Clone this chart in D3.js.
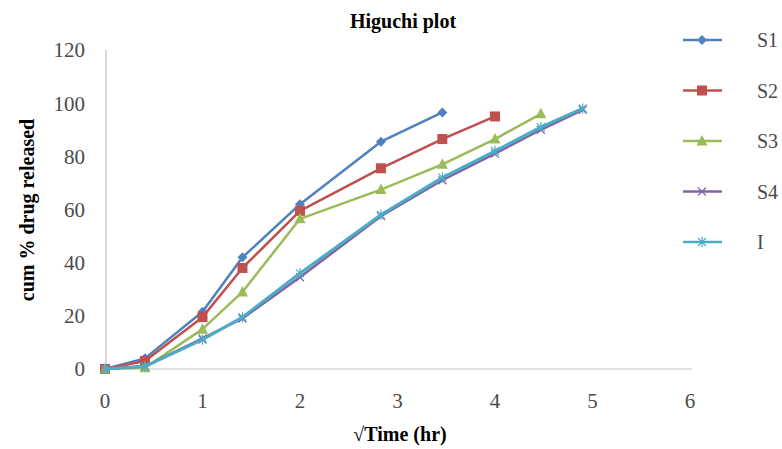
<!DOCTYPE html>
<html>
<head>
<meta charset="utf-8">
<script src="https://cdn.jsdelivr.net/npm/d3@7"></script>
<style>
  body { margin: 0; background: #fff; }
  text { font-family: "Liberation Serif", "Times New Roman", serif; }
</style>
</head>
<body>
<div id="chart"></div>
<script>
// sqrt(time) values
var sqrtTime = [0, 0.41, 1, 1.41, 2, 2.83, 3.46, 4, 4.47, 4.9];

var seriesNames = ["S1", "S2", "S3", "S4", "I"];
var s1 = [0, 4, 21.5, 42, 62, 85.5, 96.5];
var s2 = [0, 3, 19.5, 38, 59.5, 75.5, 86.5, 95];
var s3 = [0, 0.5, 15, 29, 56.5, 67.5, 77, 86.5, 96];
var s4 = [0, 1, 11.5, 19, 34.5, 57.5, 71, 81, 90, 97.5];
var sI = [0, 1, 11, 19.5, 36, 58, 72, 82, 91, 98];

var xTicks = [0, 1, 2, 3, 4, 5, 6];
var yTicks = [0, 20, 40, 60, 80, 100, 120];

var colors = ["#4F81BD", "#C0504D", "#9BBB59", "#8064A2", "#4BACC6"];
var markers = ["diamond", "square", "triangle", "cross", "star"];

var margin = {top: 50, right: 90, bottom: 80, left: 105},
    height = 369 - margin.top;

var svg = d3.select("#chart")
  .append("svg")
    .attr("width", 782)
    .attr("height", 449);

var g = svg.append("g")
    .attr("transform", "translate(" + margin.left + "," + margin.top + ")");

var x = d3.scaleLinear().domain([0, 6]).range([0, 585]);
var y = d3.scaleLinear().domain([0, 120]).range([height, 0]);

// axis lines
g.append("line")
  .attr("x1", 1).attr("x2", 1)
  .attr("y1", y(120)).attr("y2", y(0))
  .attr("stroke", "#BFBFBF").attr("stroke-width", 1.2);
g.append("line")
  .attr("x1", 0).attr("x2", x(6) + 2)
  .attr("y1", y(0)).attr("y2", y(0))
  .attr("stroke", "#BFBFBF").attr("stroke-width", 1.2);

// tick labels
g.selectAll(".ytick")
  .data(yTicks)
  .enter()
  .append("text")
    .attr("x", -20)
    .attr("y", function(d) { return y(d); })
    .attr("dy", "0.35em")
    .attr("text-anchor", "end")
    .style("font-size", "21px")
    .attr("fill", "#4a4a4a")
    .text(function(d) { return d; });

g.selectAll(".xtick")
  .data(xTicks)
  .enter()
  .append("text")
    .attr("x", function(d) { return x(d); })
    .attr("y", y(0) + 39)
    .attr("text-anchor", "middle")
    .style("font-size", "21px")
    .attr("fill", "#4a4a4a")
    .text(function(d) { return d; });

// titles
svg.append("text")
  .attr("x", 403).attr("y", 28)
  .attr("text-anchor", "middle")
  .style("font-size", "20px").style("font-weight", "bold")
  .text("Higuchi plot");

svg.append("text")
  .attr("transform", "translate(34,210) rotate(-90)")
  .attr("text-anchor", "middle")
  .style("font-size", "20px").style("font-weight", "bold")
  .text("cum % drug released");

svg.append("text")
  .attr("x", 400).attr("y", 441)
  .attr("text-anchor", "middle")
  .style("font-size", "20px").style("font-weight", "bold")
  .text("\u221ATime (hr)");

var allSeries = [s1, s2, s3, s4, sI];

var line = d3.line()
  .x(function(d) { return x(d[0]); })
  .y(function(d) { return y(d[1]); });

function drawMarker(sel, type, color) {
  if (type === "diamond") {
    sel.append("path").attr("d", "M0,-5L5,0L0,5L-5,0Z").attr("fill", color);
  } else if (type === "square") {
    sel.append("rect").attr("x", -5).attr("y", -5).attr("width", 10).attr("height", 10).attr("fill", color);
  } else if (type === "triangle") {
    sel.append("path").attr("d", "M0,-6L5.5,4.5L-5.5,4.5Z").attr("fill", color);
  } else if (type === "cross") {
    sel.append("path").attr("d", "M-4,-4L4,4M-4,4L4,-4").attr("stroke", color).attr("stroke-width", 1.2).attr("fill", "none");
  } else {
    sel.append("path").attr("d", "M-4,-4L4,4M-4,4L4,-4M0,-5L0,5").attr("stroke", color).attr("stroke-width", 1.2).attr("fill", "none");
  }
}

allSeries.forEach(function(vals, i) {
  var pts = vals.map(function(v, j) { return [sqrtTime[j], v]; });
  g.append("path")
    .datum(pts)
    .attr("fill", "none")
    .attr("stroke", colors[i])
    .attr("stroke-width", i === 4 ? 3 : 2.5)
    .attr("stroke-linejoin", "round")
    .attr("d", line);
  g.selectAll(".m" + i)
    .data(pts)
    .enter()
    .append("g")
      .attr("transform", function(d) { return "translate(" + x(d[0]) + "," + y(d[1]) + ")"; })
      .each(function() { drawMarker(d3.select(this), markers[i], colors[i]); });
});

// legend
var legend = svg.append("g");
seriesNames.forEach(function(name, i) {
  var ly = 40 + i * 50.5;
  legend.append("line")
    .attr("x1", 683).attr("x2", 722)
    .attr("y1", ly).attr("y2", ly)
    .attr("stroke", colors[i]).attr("stroke-width", 2.5);
  var m = legend.append("g").attr("transform", "translate(702," + ly + ")");
  drawMarker(m, markers[i], colors[i]);
  legend.append("text")
    .attr("x", 757).attr("y", ly)
    .attr("dy", "0.35em")
    .style("font-size", "20px")
    .attr("fill", "#4a4a4a")
    .text(name);
});
</script>
</body>
</html>
